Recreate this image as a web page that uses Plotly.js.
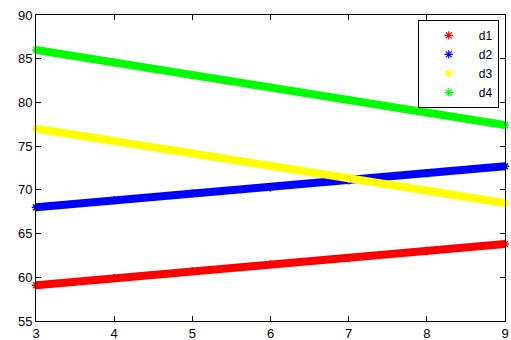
<!DOCTYPE html>
<html><head><meta charset="utf-8">
<script src="https://cdn.plot.ly/plotly-3.0.1.min.js"></script>
<style>body{margin:0;padding:0;background:#fff}#c{width:511px;height:340px}</style>
</head><body><div id="c"></div>
<script>
var xs = [3, 4, 5, 6, 7, 8, 9];
var d1 = [59.1, 59.9, 60.7, 61.5, 62.2, 63.0, 63.8];
var d2 = [68.0, 68.8, 69.6, 70.3, 71.1, 71.9, 72.7];
var d3 = [77.0, 75.6, 74.2, 72.8, 71.3, 69.9, 68.5];
var d4 = [86.0, 84.6, 83.1, 81.7, 80.3, 78.8, 77.4];
var names = ['d1', 'd2', 'd3', 'd4'];
var colors = ['#ff0000', '#0000ff', '#ffff00', '#00ff00'];
var series = [d1, d2, d3, d4];
var traces = [];
series.forEach(function(s, i){
  traces.push({x: xs, y: s, mode: 'lines+markers', showlegend: false,
    line: {color: colors[i], width: 8},
    marker: {symbol: 'asterisk-open', size: 7, line: {color: colors[i], width: 1.5}, color: colors[i]},
    cliponaxis: false});
});
series.forEach(function(s, i){
  traces.push({x: [null], y: [null], mode: 'markers', name: names[i],
    marker: {symbol: 'asterisk-open', size: 7, line: {color: colors[i], width: 1.2}, color: colors[i]}});
});
var ax = {showgrid: false, zeroline: false, showline: true, linecolor: '#000', linewidth: 1,
  mirror: 'ticks', ticks: 'inside', ticklen: 5, tickcolor: '#000',
  tickfont: {family: 'Liberation Sans, Arial, sans-serif', size: 13, color: '#000'}};
var layout = {
  width: 511, height: 340,
  margin: {l: 36, r: 6, t: 15, b: 19},
  paper_bgcolor: '#fff', plot_bgcolor: '#fff',
  xaxis: Object.assign({}, ax, {range: [3, 9], tickvals: [3,4,5,6,7,8,9]}),
  yaxis: Object.assign({}, ax, {range: [55, 90], tickvals: [55,60,65,70,75,80,85,90]}),
  legend: {x: 0.814, y: 0.984, xanchor: 'left', yanchor: 'top', bordercolor: '#000', borderwidth: 1,
    bgcolor: '#fff', font: {family: 'Liberation Sans, Arial, sans-serif', size: 12, color: '#000'},
    itemwidth: 50, tracegroupgap: 0},
  showlegend: true
};
Plotly.newPlot('c', traces, layout, {displayModeBar: false, staticPlot: true});
</script></body></html>
